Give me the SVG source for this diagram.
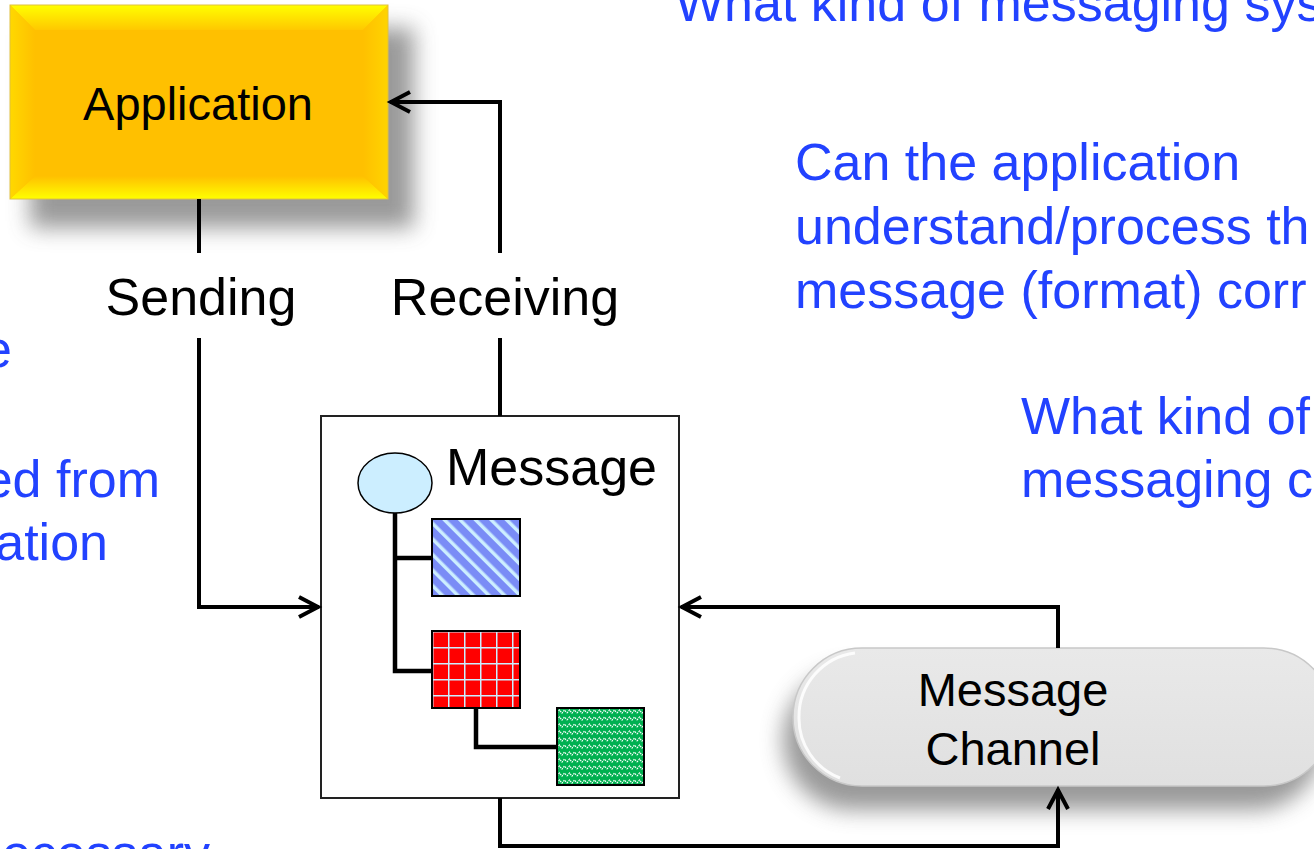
<svg xmlns="http://www.w3.org/2000/svg" width="1314" height="849" viewBox="0 0 1314 849">
  <style>
    .lbl { font-family: "Liberation Sans", Arial, sans-serif; fill: #000; }
    .note { font-family: "Liberation Sans", Arial, sans-serif; font-size: 52px; fill: #2242FF; }
    .wire { fill: none; stroke: #000; stroke-width: 4; stroke-linejoin: miter; }
    .tree { fill: none; stroke: #000; stroke-width: 4.5; }
    .part { stroke: #000; stroke-width: 2; }
  </style>
  <defs>
    <marker id="chev" viewBox="-24 -14 28 28" markerWidth="28" markerHeight="28" refX="0" refY="0" orient="auto" markerUnits="userSpaceOnUse">
      <path d="M-20,-10 L-1,0 L-20,10" fill="none" stroke="#000" stroke-width="4"/>
    </marker>
    <filter id="softShadow" x="-30%" y="-30%" width="160%" height="160%">
      <feGaussianBlur stdDeviation="11"/>
    </filter>
    <linearGradient id="bevTop" x1="0" y1="0" x2="0" y2="1">
      <stop offset="0" stop-color="#FFFF00"/>
      <stop offset="1" stop-color="#FFC800"/>
    </linearGradient>
    <linearGradient id="bevBottom" x1="0" y1="1" x2="0" y2="0">
      <stop offset="0" stop-color="#FFFF00"/>
      <stop offset="1" stop-color="#FFC000"/>
    </linearGradient>
    <linearGradient id="bevLeft" x1="0" y1="0" x2="1" y2="0">
      <stop offset="0" stop-color="#FFD800"/>
      <stop offset="1" stop-color="#FFC000"/>
    </linearGradient>
    <linearGradient id="bevRight" x1="1" y1="0" x2="0" y2="0">
      <stop offset="0" stop-color="#FFD400"/>
      <stop offset="1" stop-color="#FFC000"/>
    </linearGradient>
    <linearGradient id="pillFill" x1="0" y1="0" x2="0" y2="1">
      <stop offset="0" stop-color="#E9E9E9"/>
      <stop offset="1" stop-color="#E0E0E0"/>
    </linearGradient>
    <pattern id="hatchBlue" width="11" height="11" patternUnits="userSpaceOnUse" patternTransform="rotate(-45)">
      <rect width="11" height="11" fill="#7A8CF6"/>
      <rect x="0" y="0" width="3.5" height="11" fill="#CCEEFF"/>
    </pattern>
    <pattern id="gridRed" x="432" y="631" width="16" height="16" patternUnits="userSpaceOnUse">
      <rect width="16" height="16" fill="#FF0000"/>
      <path d="M0,0 V16 M0,0 H16" stroke="#CCEEFF" stroke-width="3"/>
    </pattern>
    <pattern id="weaveGreen" x="557" y="708" width="10" height="7" patternUnits="userSpaceOnUse">
      <rect width="10" height="7" fill="#00B050"/>
      <path d="M0,5 L2.5,2 L5,5 L7.5,2 L10,5" fill="none" stroke="#FFFFFF" stroke-width="1.2" stroke-dasharray="1.5 1"/>
    </pattern>
  </defs>

  <rect width="1314" height="849" fill="#FFFFFF"/>

  <!-- side notes in blue -->
  <g id="notes">
    <text class="note" x="675" y="21">What kind of messaging sys</text>
    <text class="note" x="795" y="180">Can the application</text>
    <text class="note" x="795" y="244">understand/process th</text>
    <text class="note" x="795" y="308">message (format) corr</text>
    <text class="note" x="1021" y="434">What kind of</text>
    <text class="note" x="1021" y="497">messaging c</text>
    <text class="note" x="12" y="367" text-anchor="end">e</text>
    <text class="note" x="160" y="497" text-anchor="end">ed from</text>
    <text class="note" x="108" y="560" text-anchor="end">ation</text>
    <text class="note" x="210" y="871" text-anchor="end">ecessary</text>
  </g>

  <!-- Application node -->
  <g id="application">
    <rect x="30" y="28" width="384" height="200" fill="#888888" opacity="0.85" filter="url(#softShadow)"/>
    <rect x="10" y="5" width="378" height="194" fill="#FFC000"/>
    <polygon points="10,5 388,5 363,30 35,30" fill="url(#bevTop)"/>
    <polygon points="10,199 388,199 363,176 35,176" fill="url(#bevBottom)"/>
    <polygon points="10,5 35,30 35,176 10,199" fill="url(#bevLeft)"/>
    <polygon points="388,5 363,30 363,176 388,199" fill="url(#bevRight)"/>
    <rect x="10" y="5" width="378" height="194" fill="none" stroke="#E0C040" stroke-width="1"/>
    <text class="lbl" x="198" y="120" font-size="47" text-anchor="middle">Application</text>
  </g>

  <!-- label panels for the two flows -->
  <g id="flow-labels">
    <rect x="85" y="253" width="235" height="85" fill="#FFFFFF"/>
    <rect x="320" y="259" width="320" height="79" fill="#FFFFFF"/>
    <text class="lbl" x="201" y="315" font-size="52" text-anchor="middle">Sending</text>
    <text class="lbl" x="505" y="315" font-size="52" text-anchor="middle">Receiving</text>
  </g>

  <!-- Message Channel node -->
  <g id="message-channel">
    <rect x="783" y="670" width="540" height="140" rx="70" fill="#777777" opacity="0.75" filter="url(#softShadow)"/>
    <rect x="793" y="648" width="540" height="138" rx="69" fill="url(#pillFill)" stroke="#C8C8C8" stroke-width="1.5"/>
    <path d="M855,653 A64,64 0 0 0 799,717 A64,64 0 0 0 840,778" fill="none" stroke="#FFFFFF" stroke-width="3" opacity="0.85"/>
    <text class="lbl" x="1013" y="706" font-size="47" text-anchor="middle">Message</text>
    <text class="lbl" x="1013" y="765" font-size="47" text-anchor="middle">Channel</text>
  </g>

  <!-- Message node with its structure -->
  <g id="message">
    <rect x="321" y="416" width="358" height="382" fill="#FFFFFF" stroke="#222" stroke-width="2"/>
    <path class="tree" d="M395,513 V671 H432 M395,558 H432 M476,708 V747 H557"/>
    <ellipse cx="395" cy="483" rx="37" ry="30" fill="#CCEEFF" stroke="#000" stroke-width="1.5"/>
    <rect class="part" x="432" y="519" width="88" height="77" fill="url(#hatchBlue)"/>
    <rect class="part" x="432" y="631" width="88" height="77" fill="url(#gridRed)"/>
    <rect class="part" x="557" y="708" width="87" height="77" fill="url(#weaveGreen)"/>
    <text class="lbl" x="446" y="485" font-size="52">Message</text>
  </g>

  <!-- connectors -->
  <g id="connectors">
    <path class="wire" d="M199,199 V253"/>
    <path class="wire" d="M199,338 V607 H319" marker-end="url(#chev)"/>
    <path class="wire" d="M500,416 V338"/>
    <path class="wire" d="M500,253 V102 H390" marker-end="url(#chev)"/>
    <path class="wire" d="M1058,648 V607 H681" marker-end="url(#chev)"/>
    <path class="wire" d="M500,798 V846 H1058 V789" marker-end="url(#chev)"/>
  </g>
</svg>
